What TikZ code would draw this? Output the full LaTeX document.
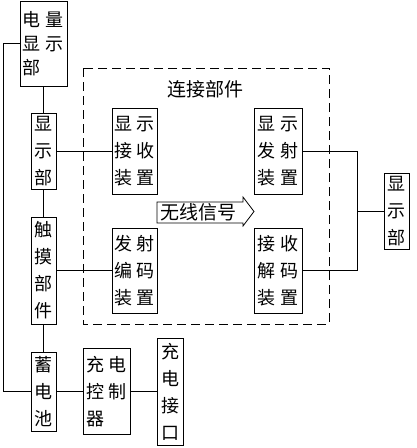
\documentclass[tikz,border=0pt]{standalone}
\usepackage{fontspec}
\newfontfamily\cjk{Noto Sans CJK SC}
\usetikzlibrary{calc}
\newcommand{\chpair}[2]{#1\hspace{5pt}#2}
\tikzset{
  part/.style={draw, line width=0.8pt, inner sep=0pt, align=left, font=\cjk\fontsize{18}{27}\selectfont},
  link/.style={line width=0.8pt},
  label/.style={inner sep=0pt, font=\cjk\fontsize{19}{19}\selectfont},
}
\begin{document}
\begin{tikzpicture}[x=1pt, y=-1pt]
\useasboundingbox (0,0) rectangle (416,448);
% left column
\node[part, minimum width=47pt, minimum height=85pt, font=\cjk\fontsize{18}{24}\selectfont] (power) at (43.5,43.5) {\chpair{电}{量}\\\chpair{显}{示}\\部};
\node[part, minimum width=25pt, minimum height=76pt] (disp) at (43.5,151) {显\\示\\部};
\node[part, minimum width=25pt, minimum height=107pt] (touch) at (43.5,270.5) {触\\摸\\部\\件};
\node[part, minimum width=25pt, minimum height=79pt] (batt) at (43.5,391.5) {蓄\\电\\池};

% connecting part
\draw[link, dash pattern=on 9pt off 5pt] (83,68) rectangle (329,324);
\node[label] (title) at (205,89) {连接部件};
\node[part, minimum width=45pt, minimum height=86pt] (rxd) at (134.5,151) {\chpair{显}{示}\\\chpair{接}{收}\\\chpair{装}{置}};
\node[part, minimum width=45pt, minimum height=85pt] (enc) at (134.5,270.5) {\chpair{发}{射}\\\chpair{编}{码}\\\chpair{装}{置}};
\node[part, minimum width=48pt, minimum height=86pt] (txd) at (278,151) {\chpair{显}{示}\\\chpair{发}{射}\\\chpair{装}{置}};
\node[part, minimum width=48pt, minimum height=85pt] (dec) at (278,270.5) {\chpair{接}{收}\\\chpair{解}{码}\\\chpair{装}{置}};

% wireless arrow
\node[label] (signal) at (198.5,212.5) {无线信号};
\draw[link] (157,202) -- (243,202) -- (243,197) -- (254,211.5) -- (243,226) -- (243,223) -- (157,223) -- cycle;

% right side
\node[part, minimum width=25pt, minimum height=76pt] (rdisp) at (396.5,211) {显\\示\\部};

% charging
\node[part, minimum width=47pt, minimum height=86pt] (ctrl) at (106.5,391.5) {\chpair{充}{电}\\\chpair{控}{制}\\器};
\node[part, minimum width=26pt, minimum height=107pt] (port) at (170,391.5) {充\\电\\接\\口};

% wires
\draw[link] (power.west) -- ++(-16,0) |- (batt.west);
\draw[link] (power) -- (disp);
\draw[link] (disp) -- (touch);
\draw[link] (touch) -- (batt);
\draw[link] (disp) -- (rxd);
\draw[link] (touch) -- (enc);
\draw[link] (batt) -- (ctrl);
\draw[link] (ctrl) -- (port);
\draw[link] (txd.east) -- ++(55,0) coordinate (fork) |- (dec.east);
\draw[link] (fork |- rdisp.west) -- (rdisp.west);
\end{tikzpicture}
\end{document}
